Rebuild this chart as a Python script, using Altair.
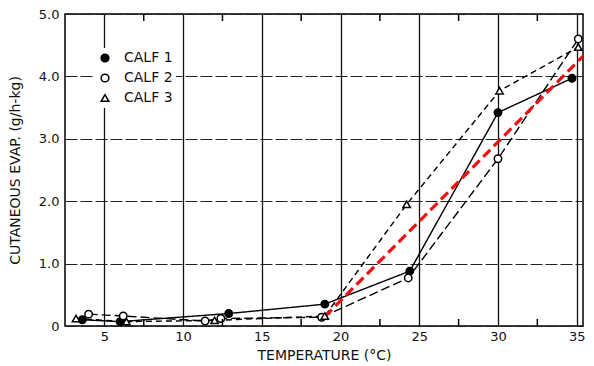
import altair as alt
import pandas as pd

# --- data ---
calf1_x = [3.6, 6.0, 12.9, 19.0, 24.4, 30.0, 34.7]
calf1_y = [0.10, 0.07, 0.20, 0.35, 0.88, 3.42, 3.97]
calf2_x = [4.0, 6.2, 11.4, 12.4, 18.8, 24.3, 30.0, 35.1]
calf2_y = [0.19, 0.16, 0.08, 0.12, 0.14, 0.77, 2.68, 4.60]
calf3_x = [3.2, 6.4, 12.0, 19.0, 24.2, 30.1, 35.1]
calf3_y = [0.12, 0.07, 0.09, 0.16, 1.95, 3.77, 4.47]
fit_x = [19.0, 35.7]
fit_y = [0.15, 4.40]
series = ["CALF 1", "CALF 2", "CALF 3"]
x_ticks = [5, 10, 15, 20, 25, 30, 35]
x_minor = [7.5, 12.5, 17.5, 22.5, 27.5, 32.5]
y_ticks = [0, 0.5, 1, 1.5, 2, 2.5, 3, 3.5, 4, 4.5, 5]

rows = []
for name, xs, ys in zip(series, [calf1_x, calf2_x, calf3_x], [calf1_y, calf2_y, calf3_y]):
    for i, (a, b) in enumerate(zip(xs, ys)):
        rows.append({"calf": name, "t": a, "e": b, "order": i})
df = pd.DataFrame(rows)
fit = pd.DataFrame({"t": fit_x, "e": fit_y})
minor = pd.DataFrame({"m": x_minor})

FONT = "DejaVu Sans"
xscale = alt.Scale(domain=[2.5, 35.4], nice=False, zero=False)
yscale = alt.Scale(domain=[0, 5], nice=False)

x_enc = alt.X("t:Q", scale=xscale,
              axis=alt.Axis(values=x_ticks, title="TEMPERATURE (°C)", grid=True,
                            gridColor="#111", gridWidth=1.3, ticks=False,
                            labelPadding=4, titlePadding=5, domain=False))
y_enc = alt.Y("e:Q", scale=yscale,
              axis=alt.Axis(values=y_ticks, title="CUTANEOUS EVAP. (g/h-kg)", grid=True,
                            gridColor="#222", gridWidth=1.1, gridDash=[12, 3],
                            ticks=False, domain=False, labelPadding=6, titlePadding=16,
                            labelExpr="datum.value == 0 ? '0' : (datum.value % 1 == 0 ? format(datum.value, '.1f') : '')"))

dashes = [[1, 0], [9, 4], [6, 4]]
line_layers = []
for k, (name, dash) in enumerate(zip(series, dashes)):
    enc_x = x_enc if k == 0 else alt.X("t:Q", scale=xscale)
    enc_y = y_enc if k == 0 else alt.Y("e:Q", scale=yscale)
    line_layers.append(
        alt.Chart(df).transform_filter(alt.datum.calf == name)
        .mark_line(color="black", strokeWidth=1.4, strokeDash=dash, clip=True)
        .encode(x=enc_x, y=enc_y, order="order:Q")
    )

fitline = alt.Chart(fit).mark_line(color="#f01010", strokeWidth=3.2, strokeDash=[10, 5], clip=True).encode(
    x=alt.X("t:Q", scale=xscale), y=alt.Y("e:Q", scale=yscale)
)

points = alt.Chart(df).mark_point(strokeWidth=1.5, size=55, opacity=1, filled=False, clip=True).encode(
    x=alt.X("t:Q", scale=xscale), y=alt.Y("e:Q", scale=yscale),
    shape=alt.Shape("calf:N", scale=alt.Scale(domain=series, range=["circle", "circle", "triangle-up"]),
                    legend=alt.Legend(title=None, orient="none", legendX=30, legendY=34,
                                      labelFont=FONT, labelFontSize=14, labelColor="#111",
                                      symbolSize=60, symbolStrokeWidth=1.5, rowPadding=6, labelOffset=12,
                                      fillColor="white", padding=3)),
    fill=alt.Fill("calf:N", scale=alt.Scale(domain=series, range=["black", "white", "white"])),
    stroke=alt.Stroke("calf:N", scale=alt.Scale(domain=series, range=["black", "black", "black"])),
)

ticks_top = alt.Chart(minor).mark_rule(color="black", strokeWidth=1.5).encode(
    x=alt.X("m:Q", scale=xscale), y=alt.value(0), y2=alt.value(7)
)
ticks_bot = alt.Chart(minor).mark_rule(color="black", strokeWidth=1.5).encode(
    x=alt.X("m:Q", scale=xscale), y=alt.value(305), y2=alt.value(312)
)

chart = alt.layer(*line_layers, fitline, points, ticks_top, ticks_bot).properties(
    width=518, height=312, background="white", padding=0
).configure_view(stroke="black", strokeWidth=1.5).configure_axis(
    labelFont=FONT, labelFontSize=13, labelColor="#111", titleFont=FONT, titleFontSize=14,
    titleFontWeight="normal", titleColor="#111"
)

chart.save("out.html", embed_options={"renderer": "svg", "actions": False})
